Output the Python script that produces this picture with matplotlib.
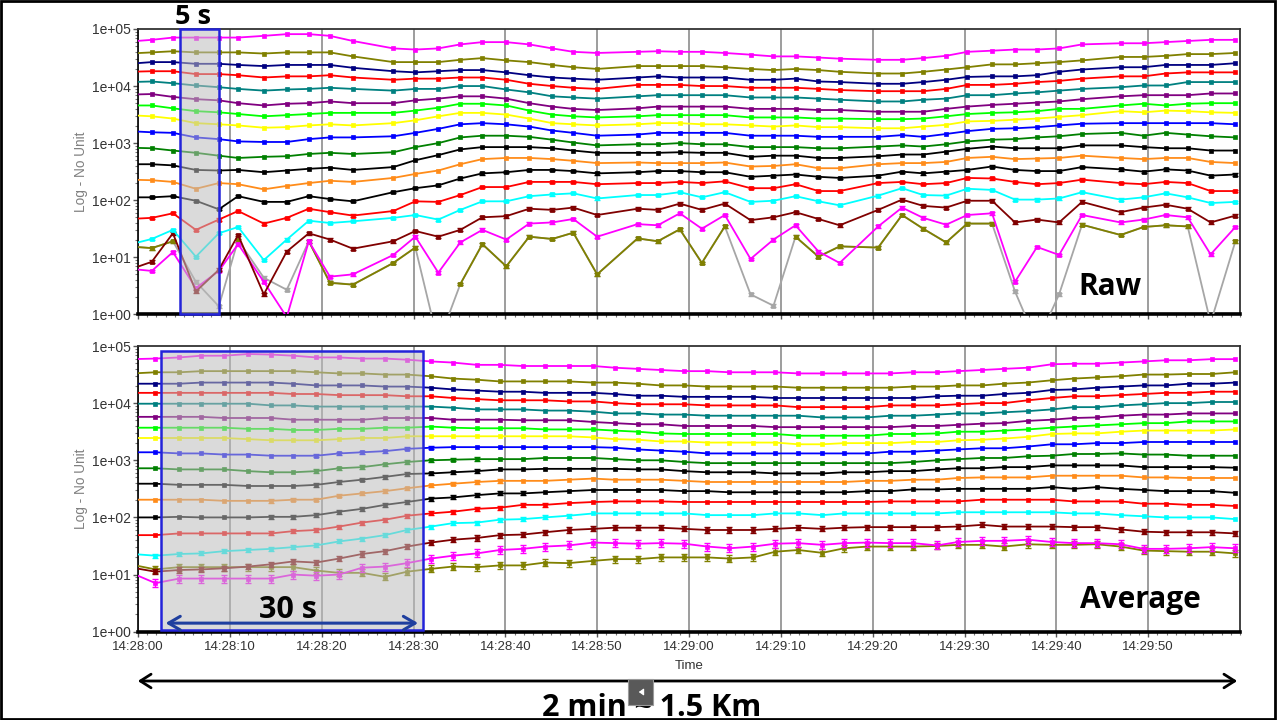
import numpy as np
import matplotlib
matplotlib.use("Agg")
import matplotlib.pyplot as plt
from matplotlib.patches import Rectangle, FancyArrowPatch
from matplotlib.ticker import MultipleLocator, FixedLocator, LogLocator, FuncFormatter, NullFormatter
from matplotlib.transforms import blended_transform_factory

plt.rcParams["font.family"] = ["Liberation Sans", "DejaVu Sans"]

nan = np.nan

# seconds after 14:28:00
raw_t = [-1.0, 1.5, 3.8, 6.3, 8.8, 10.9, 13.7, 16.2, 18.6, 20.9, 23.4, 27.8, 30.2,
         32.7, 35.1, 37.5, 40.1, 42.6, 45.1, 47.4, 50.0, 54.4, 56.6, 59.0, 61.4, 63.9, 66.7, 69.2, 71.6, 74.1, 76.4,
         80.6, 83.2, 85.5, 88.0, 90.3, 93.0, 95.5, 97.9, 100.3, 102.8, 107.0, 109.5, 111.9, 114.3, 116.8, 119.5]
avg_t = [-0.6, 1.9, 4.5, 6.9, 9.4, 12.0, 14.5, 16.9, 19.4, 21.9, 24.4, 26.9, 29.3, 31.9,
         34.3, 36.9, 39.4, 41.9, 44.3, 46.9, 49.6, 51.9, 54.4, 56.9, 59.5, 62.0, 64.4, 67.0, 69.4, 71.9, 74.5, 76.9,
         79.4, 81.9, 84.4, 87.0, 89.3, 91.9, 94.3, 96.9, 99.5, 101.9, 104.4, 107.0, 109.5, 111.9, 114.4, 116.9, 119.5]

# values are read as log10 (axis "Log - No Unit")
raw_magenta = [4.78, 4.81, 4.85, 4.85, 4.85, 4.85, 4.88, 4.91, 4.91, 4.88, 4.79, 4.66, 4.64,
               4.66, 4.73, 4.77, 4.77, 4.73, 4.66, 4.60, 4.58, 4.60, 4.61, 4.60, 4.60, 4.58, 4.55, 4.52, 4.52, 4.50, 4.48,
               4.46, 4.46, 4.49, 4.53, 4.60, 4.62, 4.64, 4.64, 4.66, 4.73, 4.75, 4.75, 4.77, 4.79, 4.81, 4.81]
raw_olive = [4.57, 4.59, 4.61, 4.59, 4.59, 4.59, 4.57, 4.59, 4.59, 4.59, 4.52, 4.42, 4.42,
             4.42, 4.46, 4.49, 4.45, 4.42, 4.37, 4.33, 4.30, 4.35, 4.35, 4.35, 4.35, 4.33, 4.30, 4.28, 4.30, 4.28, 4.25,
             4.22, 4.22, 4.25, 4.29, 4.33, 4.38, 4.38, 4.40, 4.42, 4.45, 4.51, 4.51, 4.53, 4.56, 4.56, 4.58]
raw_navy = [4.39, 4.42, 4.42, 4.39, 4.39, 4.37, 4.35, 4.37, 4.37, 4.37, 4.32, 4.26, 4.24,
            4.26, 4.28, 4.28, 4.24, 4.19, 4.15, 4.13, 4.11, 4.15, 4.17, 4.15, 4.15, 4.15, 4.11, 4.11, 4.13, 4.08, 4.07,
            4.04, 4.04, 4.07, 4.11, 4.16, 4.17, 4.17, 4.19, 4.25, 4.29, 4.33, 4.33, 4.37, 4.37, 4.37, 4.40]
raw_red = [4.25, 4.26, 4.26, 4.21, 4.21, 4.19, 4.15, 4.17, 4.17, 4.19, 4.15, 4.11, 4.13,
           4.13, 4.15, 4.15, 4.11, 4.04, 4.00, 3.97, 3.95, 4.02, 4.02, 4.02, 4.00, 4.00, 3.97, 3.97, 3.97, 3.95, 3.93,
           3.91, 3.91, 3.91, 3.95, 4.02, 4.02, 4.04, 4.07, 4.09, 4.13, 4.17, 4.17, 4.22, 4.24, 4.24, 4.24]
raw_teal = [4.07, 4.08, 4.05, 4.01, 3.98, 3.95, 3.92, 3.94, 3.95, 3.97, 3.95, 3.92, 3.95,
            3.95, 4.00, 4.00, 3.94, 3.89, 3.82, 3.80, 3.78, 3.82, 3.84, 3.84, 3.84, 3.84, 3.80, 3.80, 3.80, 3.78, 3.76,
            3.73, 3.73, 3.76, 3.78, 3.84, 3.84, 3.87, 3.89, 3.92, 3.95, 3.98, 4.01, 4.01, 4.07, 4.07, 4.07]
raw_purple = [3.85, 3.86, 3.81, 3.77, 3.75, 3.70, 3.66, 3.69, 3.70, 3.73, 3.70, 3.70, 3.75,
              3.78, 3.82, 3.82, 3.78, 3.70, 3.64, 3.60, 3.58, 3.61, 3.64, 3.64, 3.64, 3.64, 3.60, 3.60, 3.60, 3.58, 3.58,
              3.55, 3.55, 3.55, 3.60, 3.64, 3.67, 3.69, 3.71, 3.73, 3.77, 3.82, 3.84, 3.84, 3.84, 3.87, 3.87]
raw_lime = [3.66, 3.66, 3.61, 3.56, 3.54, 3.51, 3.47, 3.49, 3.51, 3.53, 3.53, 3.53, 3.57,
            3.62, 3.69, 3.69, 3.66, 3.57, 3.50, 3.47, 3.45, 3.47, 3.49, 3.49, 3.49, 3.49, 3.45, 3.45, 3.45, 3.43, 3.43,
            3.42, 3.42, 3.43, 3.47, 3.51, 3.53, 3.54, 3.56, 3.60, 3.60, 3.66, 3.69, 3.66, 3.69, 3.70, 3.70]
raw_yellow = [3.49, 3.47, 3.43, 3.35, 3.33, 3.31, 3.27, 3.28, 3.31, 3.33, 3.31, 3.35, 3.40,
              3.47, 3.53, 3.53, 3.50, 3.43, 3.35, 3.33, 3.31, 3.33, 3.35, 3.35, 3.33, 3.33, 3.31, 3.29, 3.31, 3.28, 3.28,
              3.26, 3.26, 3.29, 3.32, 3.38, 3.39, 3.41, 3.43, 3.46, 3.49, 3.56, 3.54, 3.57, 3.56, 3.54, 3.53]
raw_blue = [3.21, 3.19, 3.18, 3.10, 3.07, 3.03, 3.02, 3.02, 3.07, 3.10, 3.10, 3.12, 3.18,
            3.25, 3.33, 3.35, 3.33, 3.29, 3.22, 3.18, 3.13, 3.15, 3.18, 3.18, 3.18, 3.18, 3.13, 3.13, 3.13, 3.11, 3.11,
            3.11, 3.14, 3.11, 3.16, 3.21, 3.25, 3.26, 3.28, 3.31, 3.34, 3.35, 3.35, 3.35, 3.35, 3.35, 3.33]
raw_green = [2.92, 2.91, 2.87, 2.83, 2.78, 2.74, 2.76, 2.77, 2.81, 2.83, 2.81, 2.84, 2.93,
             3.00, 3.10, 3.13, 3.13, 3.11, 3.06, 3.01, 2.96, 2.98, 2.98, 3.00, 2.98, 2.98, 2.93, 2.93, 2.93, 2.91, 2.91,
             2.94, 2.96, 2.94, 2.98, 3.03, 3.06, 3.07, 3.10, 3.12, 3.16, 3.18, 3.13, 3.18, 3.15, 3.12, 3.10]
raw_black = [2.63, 2.63, 2.61, 2.53, 2.52, 2.53, 2.49, 2.52, 2.55, 2.57, 2.53, 2.58, 2.70,
             2.79, 2.89, 2.93, 2.93, 2.93, 2.91, 2.87, 2.83, 2.83, 2.83, 2.84, 2.83, 2.83, 2.76, 2.78, 2.78, 2.74, 2.74,
             2.77, 2.80, 2.80, 2.85, 2.90, 2.94, 2.91, 2.91, 2.91, 2.96, 2.96, 2.93, 2.91, 2.91, 2.87, 2.87]
raw_orange = [2.36, 2.35, 2.32, 2.20, 2.30, 2.28, 2.19, 2.25, 2.30, 2.34, 2.32, 2.39, 2.46,
              2.52, 2.63, 2.72, 2.74, 2.74, 2.72, 2.69, 2.65, 2.66, 2.65, 2.65, 2.65, 2.66, 2.59, 2.60, 2.63, 2.56, 2.56,
              2.63, 2.65, 2.65, 2.67, 2.74, 2.76, 2.72, 2.73, 2.74, 2.78, 2.74, 2.72, 2.74, 2.74, 2.67, 2.65]
raw_black2 = [2.05, 2.05, 2.07, 1.99, 1.84, 2.07, 1.97, 1.97, 2.07, 2.02, 1.98, 2.14, 2.21,
              2.26, 2.38, 2.47, 2.49, 2.53, 2.53, 2.51, 2.47, 2.49, 2.51, 2.51, 2.49, 2.49, 2.41, 2.43, 2.45, 2.41, 2.39,
              2.43, 2.50, 2.47, 2.50, 2.53, 2.59, 2.53, 2.51, 2.51, 2.58, 2.54, 2.50, 2.54, 2.52, 2.43, 2.45]
raw_red2 = [1.67, 1.69, 1.77, 1.48, 1.66, 1.81, 1.59, 1.69, 1.85, 1.79, 1.73, 1.81, 1.98,
            1.97, 2.09, 2.23, 2.23, 2.32, 2.32, 2.32, 2.28, 2.30, 2.30, 2.32, 2.30, 2.33, 2.21, 2.21, 2.28, 2.16, 2.16,
            2.30, 2.32, 2.28, 2.30, 2.39, 2.38, 2.32, 2.28, 2.30, 2.36, 2.30, 2.28, 2.32, 2.30, 2.16, 2.16]
raw_cyan = [1.22, 1.32, 1.48, 1.01, 1.42, 1.53, 0.95, 1.31, 1.64, 1.60, 1.63, 1.69, 1.74,
            1.66, 1.83, 1.98, 1.98, 2.07, 2.10, 2.12, 2.03, 2.09, 2.09, 2.14, 2.05, 2.14, 1.97, 1.99, 2.07, 1.98, 1.91,
            2.08, 2.21, 2.09, 2.08, 2.20, 2.18, 2.01, 2.01, 2.03, 2.14, 2.01, 2.05, 2.12, 2.05, 1.95, 1.97]
raw_maroon = [0.78, 0.92, 1.42, 0.40, 0.78, 1.39, 0.35, 1.10, 1.42, 1.31, 1.15, 1.28, 1.46,
              1.36, 1.48, 1.70, 1.72, 1.85, 1.83, 1.87, 1.74, 1.85, 1.83, 1.94, 1.83, 1.94, 1.65, 1.70, 1.79, 1.67, 1.56,
              1.83, 2.01, 1.90, 1.87, 1.99, 1.99, 1.61, 1.66, 1.61, 1.97, 1.79, 1.87, 1.92, 1.85, 1.61, 1.73]
raw_magenta2 = [0.80, 0.76, 1.09, 0.46, 0.76, 1.23, 0.57, -0.05, 1.28, 0.66, 0.70, 1.04, 1.36,
                0.73, 1.26, 1.48, 1.31, 1.59, 1.61, 1.67, 1.36, 1.58, 1.56, 1.77, 1.50, 1.74, 0.97, 1.31, 1.56, 1.10, 0.90,
                1.54, 1.87, 1.69, 1.57, 1.74, 1.77, 0.57, 1.18, 1.04, 1.74, 1.61, 1.66, 1.74, 1.70, 1.05, 1.53]
raw_olive2 = [1.19, 1.16, 1.28, nan, nan, 1.30, nan, nan, 1.28, 0.55, 0.52, 0.90, 1.17,
              nan, 0.53, 1.23, 0.84, 1.36, 1.32, 1.43, 0.70, 1.33, 1.28, 1.49, 0.90, 1.54, nan, nan, 1.36, 1.01, 1.19,
              1.17, 1.74, 1.50, 1.26, 1.59, 1.59, nan, nan, nan, 1.57, 1.39, 1.53, 1.56, 1.54, nan, 1.28]
raw_gray = [1.19, 1.16, 1.28, 0.57, 0.14, 1.30, 0.64, 0.43, 1.28, 0.56, 0.52, 0.90, 1.17,
            -0.50, 0.53, 1.23, 0.84, 1.36, 1.32, 1.43, 0.70, 1.33, 1.28, 1.49, 0.90, 1.54, 0.35, 0.15, 1.36, 1.01, 1.19,
            1.17, 1.74, 1.50, 1.26, 1.59, 1.59, 0.40, -0.50, 0.35, 1.57, 1.39, 1.53, 1.56, 1.54, -0.15, 1.28]

avg_magenta = [4.77, 4.78, 4.80, 4.83, 4.83, 4.86, 4.85, 4.83, 4.80, 4.80, 4.78, 4.78, 4.76, 4.73,
               4.71, 4.67, 4.67, 4.65, 4.65, 4.65, 4.65, 4.62, 4.60, 4.58, 4.56, 4.56, 4.54, 4.54, 4.54, 4.52, 4.52, 4.52,
               4.52, 4.52, 4.54, 4.54, 4.56, 4.58, 4.60, 4.62, 4.68, 4.69, 4.69, 4.71, 4.73, 4.75, 4.75, 4.77, 4.77]
avg_olive = [4.52, 4.54, 4.54, 4.56, 4.56, 4.56, 4.56, 4.56, 4.54, 4.52, 4.52, 4.50, 4.50, 4.47,
             4.43, 4.41, 4.38, 4.38, 4.38, 4.38, 4.36, 4.36, 4.34, 4.31, 4.31, 4.29, 4.29, 4.29, 4.29, 4.27, 4.27, 4.27,
             4.27, 4.27, 4.29, 4.29, 4.31, 4.31, 4.34, 4.36, 4.40, 4.43, 4.45, 4.47, 4.50, 4.50, 4.51, 4.51, 4.54]
avg_navy = [4.34, 4.34, 4.34, 4.36, 4.36, 4.36, 4.36, 4.34, 4.31, 4.31, 4.31, 4.29, 4.29, 4.27,
            4.24, 4.22, 4.20, 4.20, 4.18, 4.18, 4.18, 4.16, 4.13, 4.13, 4.11, 4.11, 4.11, 4.11, 4.09, 4.09, 4.09, 4.09,
            4.09, 4.09, 4.09, 4.12, 4.13, 4.13, 4.16, 4.18, 4.23, 4.24, 4.27, 4.29, 4.31, 4.31, 4.34, 4.34, 4.36]
avg_red = [4.18, 4.18, 4.18, 4.18, 4.18, 4.18, 4.18, 4.16, 4.16, 4.14, 4.14, 4.14, 4.12, 4.12,
           4.09, 4.07, 4.05, 4.05, 4.05, 4.03, 4.03, 4.00, 3.98, 3.98, 3.98, 3.96, 3.96, 3.96, 3.96, 3.93, 3.93, 3.93,
           3.93, 3.96, 3.96, 3.96, 3.98, 4.00, 4.00, 4.05, 4.09, 4.12, 4.12, 4.14, 4.16, 4.18, 4.18, 4.20, 4.20]
avg_teal = [3.99, 3.99, 3.99, 3.99, 3.99, 3.99, 3.96, 3.96, 3.94, 3.94, 3.94, 3.94, 3.94, 3.94,
            3.92, 3.89, 3.89, 3.89, 3.87, 3.87, 3.85, 3.82, 3.82, 3.80, 3.80, 3.78, 3.78, 3.78, 3.78, 3.78, 3.75, 3.75,
            3.75, 3.78, 3.78, 3.80, 3.82, 3.82, 3.84, 3.86, 3.89, 3.93, 3.93, 3.96, 3.98, 4.00, 4.00, 4.02, 4.02]
avg_purple = [3.76, 3.76, 3.76, 3.76, 3.74, 3.74, 3.74, 3.71, 3.71, 3.71, 3.71, 3.74, 3.74, 3.74,
              3.71, 3.71, 3.71, 3.70, 3.70, 3.70, 3.67, 3.65, 3.63, 3.63, 3.60, 3.60, 3.60, 3.60, 3.58, 3.58, 3.58, 3.58,
              3.58, 3.58, 3.60, 3.60, 3.62, 3.64, 3.65, 3.69, 3.71, 3.74, 3.75, 3.78, 3.80, 3.80, 3.82, 3.82, 3.82]
avg_lime = [3.57, 3.57, 3.57, 3.57, 3.57, 3.55, 3.55, 3.53, 3.53, 3.55, 3.55, 3.57, 3.57, 3.59,
            3.57, 3.56, 3.56, 3.56, 3.54, 3.54, 3.54, 3.52, 3.50, 3.47, 3.46, 3.46, 3.46, 3.46, 3.46, 3.43, 3.43, 3.43,
            3.43, 3.46, 3.46, 3.47, 3.50, 3.50, 3.52, 3.54, 3.57, 3.59, 3.61, 3.63, 3.65, 3.65, 3.68, 3.68, 3.68]
avg_yellow = [3.39, 3.39, 3.39, 3.39, 3.39, 3.37, 3.35, 3.35, 3.35, 3.37, 3.39, 3.39, 3.42, 3.42,
              3.42, 3.42, 3.42, 3.42, 3.42, 3.42, 3.40, 3.37, 3.36, 3.33, 3.33, 3.31, 3.31, 3.31, 3.31, 3.28, 3.28, 3.30,
              3.30, 3.30, 3.32, 3.32, 3.35, 3.36, 3.38, 3.41, 3.46, 3.47, 3.47, 3.50, 3.52, 3.52, 3.52, 3.52, 3.54]
avg_blue = [3.14, 3.14, 3.12, 3.12, 3.10, 3.10, 3.08, 3.08, 3.08, 3.12, 3.14, 3.16, 3.20, 3.22,
            3.23, 3.23, 3.23, 3.23, 3.23, 3.23, 3.23, 3.22, 3.19, 3.17, 3.15, 3.12, 3.12, 3.12, 3.12, 3.12, 3.12, 3.12,
            3.12, 3.15, 3.15, 3.17, 3.19, 3.21, 3.21, 3.24, 3.28, 3.28, 3.30, 3.30, 3.32, 3.32, 3.32, 3.32, 3.32]
avg_green = [2.86, 2.86, 2.84, 2.84, 2.84, 2.81, 2.79, 2.79, 2.81, 2.86, 2.88, 2.93, 2.97, 3.00,
             3.01, 3.02, 3.02, 3.02, 3.04, 3.04, 3.04, 3.02, 3.00, 3.00, 2.97, 2.95, 2.95, 2.95, 2.95, 2.95, 2.95, 2.95,
             2.95, 2.95, 2.97, 3.00, 3.02, 3.04, 3.04, 3.07, 3.08, 3.11, 3.11, 3.12, 3.10, 3.10, 3.08, 3.08, 3.08]
avg_black = [2.59, 2.59, 2.57, 2.57, 2.57, 2.55, 2.55, 2.55, 2.57, 2.62, 2.66, 2.71, 2.76, 2.77,
             2.79, 2.81, 2.84, 2.84, 2.85, 2.85, 2.85, 2.85, 2.84, 2.84, 2.81, 2.79, 2.79, 2.79, 2.77, 2.77, 2.77, 2.79,
             2.79, 2.81, 2.81, 2.84, 2.86, 2.86, 2.88, 2.88, 2.91, 2.91, 2.91, 2.91, 2.88, 2.88, 2.88, 2.88, 2.87]
avg_orange = [2.31, 2.31, 2.31, 2.31, 2.29, 2.29, 2.29, 2.31, 2.31, 2.38, 2.42, 2.46, 2.51, 2.56,
              2.59, 2.62, 2.64, 2.64, 2.64, 2.66, 2.68, 2.66, 2.66, 2.66, 2.64, 2.62, 2.62, 2.62, 2.62, 2.62, 2.62, 2.62,
              2.64, 2.64, 2.66, 2.66, 2.69, 2.70, 2.70, 2.70, 2.73, 2.73, 2.73, 2.73, 2.70, 2.70, 2.69, 2.69, 2.69]
avg_black2 = [2.00, 2.00, 2.01, 2.00, 2.00, 2.00, 2.01, 2.01, 2.04, 2.10, 2.15, 2.22, 2.27, 2.33,
              2.35, 2.39, 2.42, 2.42, 2.44, 2.46, 2.48, 2.48, 2.48, 2.48, 2.46, 2.46, 2.44, 2.44, 2.44, 2.44, 2.44, 2.44,
              2.46, 2.46, 2.49, 2.49, 2.50, 2.50, 2.50, 2.50, 2.53, 2.50, 2.53, 2.50, 2.48, 2.46, 2.46, 2.46, 2.43]
avg_red2 = [1.69, 1.69, 1.72, 1.72, 1.72, 1.72, 1.72, 1.76, 1.78, 1.84, 1.91, 1.96, 2.03, 2.07,
            2.10, 2.15, 2.17, 2.22, 2.22, 2.25, 2.27, 2.28, 2.28, 2.28, 2.27, 2.27, 2.27, 2.27, 2.27, 2.27, 2.27, 2.27,
            2.27, 2.28, 2.28, 2.28, 2.28, 2.31, 2.31, 2.31, 2.31, 2.28, 2.28, 2.28, 2.24, 2.24, 2.22, 2.22, 2.20]
avg_cyan = [1.36, 1.33, 1.36, 1.37, 1.41, 1.43, 1.45, 1.48, 1.51, 1.58, 1.63, 1.69, 1.78, 1.84,
            1.90, 1.91, 1.96, 1.97, 2.00, 2.03, 2.07, 2.07, 2.07, 2.07, 2.07, 2.04, 2.04, 2.04, 2.07, 2.07, 2.04, 2.07,
            2.07, 2.07, 2.07, 2.07, 2.09, 2.09, 2.09, 2.09, 2.09, 2.07, 2.07, 2.04, 2.02, 2.00, 2.00, 2.00, 1.97]
avg_maroon = [1.12, 1.05, 1.08, 1.09, 1.11, 1.14, 1.18, 1.23, 1.21, 1.28, 1.36, 1.41, 1.49, 1.56,
              1.61, 1.64, 1.69, 1.70, 1.74, 1.78, 1.80, 1.82, 1.82, 1.82, 1.80, 1.78, 1.78, 1.78, 1.80, 1.82, 1.80, 1.82,
              1.83, 1.83, 1.83, 1.83, 1.84, 1.87, 1.84, 1.84, 1.84, 1.83, 1.83, 1.79, 1.75, 1.74, 1.74, 1.74, 1.72]
avg_magenta2 = [1.02, 0.85, 0.93, 0.93, 0.93, 0.93, 0.93, 1.00, 0.98, 1.00, 1.12, 1.14, 1.20, 1.28,
                1.33, 1.37, 1.43, 1.45, 1.49, 1.51, 1.56, 1.55, 1.54, 1.55, 1.54, 1.49, 1.46, 1.49, 1.54, 1.55, 1.52, 1.55,
                1.56, 1.55, 1.55, 1.51, 1.57, 1.59, 1.59, 1.61, 1.57, 1.55, 1.55, 1.53, 1.45, 1.45, 1.46, 1.48, 1.46]
avg_olive2 = [1.17, 1.09, 1.13, 1.13, 1.13, 1.13, 1.13, 1.13, 1.07, 1.03, 1.03, 0.96, 1.05, 1.10,
              1.14, 1.13, 1.16, 1.16, 1.21, 1.20, 1.24, 1.27, 1.27, 1.30, 1.30, 1.30, 1.28, 1.30, 1.40, 1.43, 1.38, 1.46,
              1.49, 1.49, 1.49, 1.50, 1.52, 1.52, 1.49, 1.53, 1.52, 1.52, 1.53, 1.49, 1.42, 1.41, 1.40, 1.40, 1.37]

# (raw, average, colour, raw error, average error, error window) from top to bottom
series = [
    (raw_magenta, avg_magenta, "#ff00ff", 0, 0, None),
    (raw_olive, avg_olive, "#808000", 0, 0, None),
    (raw_navy, avg_navy, "#000080", 0, 0, None),
    (raw_red, avg_red, "#ff0000", 0, 0, None),
    (raw_teal, avg_teal, "#008080", 0, 0, None),
    (raw_purple, avg_purple, "#800080", 0, 0, None),
    (raw_lime, avg_lime, "#00ff00", 0, 0, None),
    (raw_yellow, avg_yellow, "#ffff00", 0, 0, None),
    (raw_blue, avg_blue, "#0000ff", 0, 0.025, (17, 32)),
    (raw_green, avg_green, "#008000", 0, 0.03, (17, 38)),
    (raw_black, avg_black, "#000000", 0, 0.03, (17, 38)),
    (raw_orange, avg_orange, "#ff8c1a", 0, 0.03, (14, 40)),
    (raw_black2, avg_black2, "#000000", 0.02, 0.035, (14, 42)),
    (raw_red2, avg_red2, "#ff0000", 0.02, 0.035, (14, 45)),
    (raw_cyan, avg_cyan, "#00ffff", 0.02, 0.035, (0, 47)),
    (raw_maroon, avg_maroon, "#800000", 0.025, 0.045, (-5, 125)),
    (raw_magenta2, avg_magenta2, "#ff00ff", 0.025, 0.07, (-5, 125)),
    (raw_olive2, avg_olive2, "#808000", 0.025, 0.06, (-5, 125)),
    (raw_gray, None, "#a6a6a6", 0.025, 0, None),
]


def fx(x):
    return x / 1280


def fy(y):
    return 1 - y / 720


def draw_series(ax, t, logs, color, err=0.0, window=None):
    t = np.array(t)
    v = 10.0 ** np.array(logs)
    ax.plot(t, v, color=color, lw=1.3, marker="s", ms=3.0, mew=0.5, zorder=3)
    if err > 0:
        t0, t1 = window if window else (-5, 125)
        m = (t >= t0) & (t <= t1) & np.isfinite(v)
        lo = v[m] - v[m] / 10 ** err
        hi = v[m] * 10 ** err - v[m]
        ax.errorbar(t[m], v[m], yerr=[lo, hi], fmt="none", ecolor=color,
                    elinewidth=1, capsize=2.2, capthick=1, zorder=3)


def hms(v, pos):
    s = int(round(v))
    return f"14:{28 + s // 60}:{s % 60:02d}"


def style_axes(ax, labels):
    ax.set_yscale("log")
    ax.set_ylim(1, 1e5)
    ax.set_xlim(0, 120)
    ax.xaxis.set_major_locator(FixedLocator(list(range(0, 111, 10))))
    ax.xaxis.set_minor_locator(MultipleLocator(1))
    ax.xaxis.set_major_formatter(FuncFormatter(hms))
    ax.yaxis.set_major_locator(LogLocator(base=10, numticks=10))
    ax.yaxis.set_minor_locator(LogLocator(base=10, subs=np.arange(2, 10), numticks=20))
    ax.yaxis.set_major_formatter(FuncFormatter(lambda v, p: f"{v:.0e}"))
    ax.yaxis.set_minor_formatter(NullFormatter())
    ax.grid(axis="x", which="major", color="#8c8c8c", lw=1.2)
    ax.set_axisbelow(True)
    ax.tick_params(axis="both", which="major", direction="out", length=3.5, width=1,
                   color="#555555", labelcolor="#333333")
    ax.tick_params(axis="y", which="major", labelsize=10, pad=1.5)
    ax.tick_params(axis="x", which="major", labelsize=9.5, pad=3, labelbottom=labels)
    ax.tick_params(which="minor", direction="out", length=2.2, width=0.8, color="#777777")
    ax.spines["bottom"].set_linewidth(2.6)
    ax.spines["bottom"].set_color("black")
    ax.spines["left"].set_linewidth(1.2)
    ax.spines["left"].set_color("black")
    for side in ("top", "right"):
        ax.spines[side].set_linewidth(1.3)
        ax.spines[side].set_color("#333333")


def shade_box(ax, x0, x1, y0, y1):
    tr = blended_transform_factory(ax.transData, ax.transAxes)
    ax.add_patch(Rectangle((x0, y0), x1 - x0, y1 - y0, transform=tr, facecolor="#bdbdbd",
                           alpha=0.55, edgecolor="none", zorder=5))
    ax.add_patch(Rectangle((x0, y0), x1 - x0, y1 - y0, transform=tr, fill=False,
                           edgecolor="#2323d9", lw=1.8, zorder=6, clip_on=False))


fig = plt.figure(figsize=(12.8, 7.2), dpi=100)
ax_raw = fig.add_axes([fx(138), fy(314.3), fx(1102), 285.3 / 720])
ax_avg = fig.add_axes([fx(138), fy(631.7), fx(1102), 285.7 / 720])

for raw, avg, color, e_raw, e_avg, window in reversed(series):
    draw_series(ax_raw, raw_t, raw, color, e_raw)
    if avg is not None:
        draw_series(ax_avg, avg_t, avg, color, e_avg, window)

style_axes(ax_raw, False)
style_axes(ax_avg, True)

shade_box(ax_raw, 4.6, 8.8, 0.0, 1.0)
shade_box(ax_avg, 2.5, 31.0, 0.006, 0.982)
ax_avg.add_patch(FancyArrowPatch((2.7, 0.03), (30.8, 0.03),
                                 transform=blended_transform_factory(ax_avg.transData, ax_avg.transAxes),
                                 arrowstyle="<->,head_length=0.6,head_width=0.35", mutation_scale=14,
                                 lw=2.2, color="#1f3f9f", zorder=7))

big = dict(family=["Open Sans", "DejaVu Sans"], fontweight="bold", color="black")
fig.text(fx(193), fy(17), "5 s", ha="center", va="center", fontsize=19.5, **big)
fig.text(fx(1110), fy(287), "Raw", ha="center", va="center", fontsize=21.5, **big)
fig.text(fx(1140), fy(600), "Average", ha="center", va="center", fontsize=21.5, **big)
fig.text(fx(288), fy(610), "30 s", ha="center", va="center", fontsize=22, zorder=8, **big)
fig.text(fx(652), fy(715.5), "2 min ~ 1.5 Km", ha="center", va="baseline", fontsize=22, **big)

for yc in (171.6, 488.9):
    fig.text(fx(81), fy(yc), "Log - No Unit", rotation=90, ha="center", va="center",
             fontsize=9.8, color="#808080")
fig.text(fx(689), fy(666), "Time", ha="center", va="center", fontsize=9.5, color="#333333")

fig.add_artist(FancyArrowPatch((fx(135), fy(681)), (fx(1240), fy(681)), transform=fig.transFigure,
                               arrowstyle="<->,head_length=0.55,head_width=0.35", mutation_scale=14,
                               lw=2, color="black"))

# small player icon over the distance label
fig.add_artist(Rectangle((fx(628), fy(705)), fx(25), 26 / 720, transform=fig.transFigure,
                         facecolor="#595959", edgecolor="#9a9a9a", lw=0.8, zorder=10))
fig.add_artist(FancyArrowPatch((fx(645), fy(692)), (fx(636), fy(692)), transform=fig.transFigure,
                               arrowstyle="-|>,head_length=0.35,head_width=0.25", mutation_scale=8,
                               lw=0.8, color="white", zorder=11))

# slide frame
fig.add_artist(Rectangle((fx(0.8), fy(718.5)), fx(1274.5), 717.7 / 720, transform=fig.transFigure,
                         fill=False, edgecolor="black", lw=2))

fig.savefig("out.png", dpi=100)
